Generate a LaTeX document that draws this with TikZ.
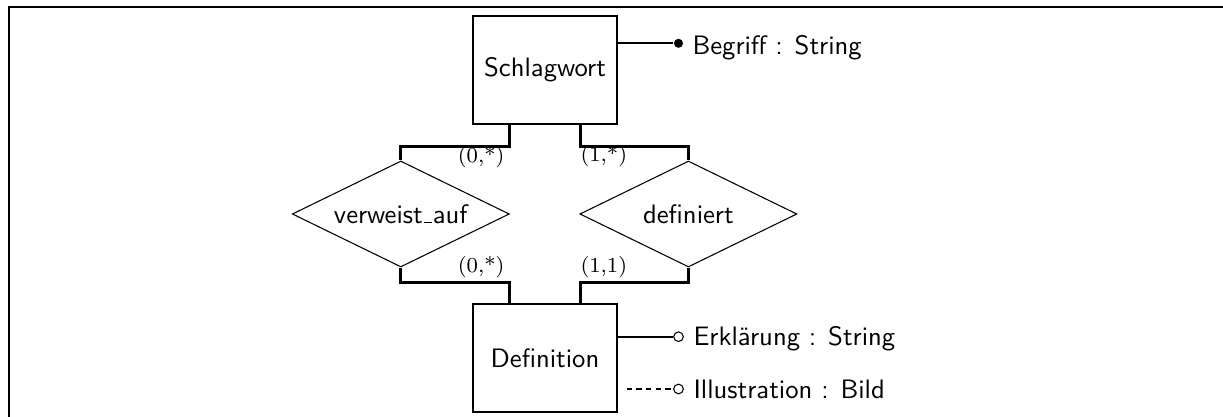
\documentclass[tikz,border=0pt]{standalone}
\usetikzlibrary{shapes.geometric}
\newcommand{\lowbar}{\leavevmode\kern.06em\vbox{\hrule width.3em height .45pt}\kern.02em}
\begin{document}
\begin{tikzpicture}[x=0.375pt,y=-0.375pt,
  entity/.style={draw,line width=0.75pt,minimum width=54pt,minimum height=40.5pt,inner sep=0pt,font=\sffamily},
  rel/.style={draw,diamond,aspect=2.05,line width=0.4pt,minimum width=81.4pt,minimum height=39.75pt,inner sep=0pt,font=\sffamily},
  conn/.style={line width=1.1pt},
  frameline/.style={line width=1.1pt},
  lab/.style={font=\rmfamily\footnotesize,inner sep=0pt},
  attr/.style={font=\sffamily,inner sep=0pt,anchor=base west},
  dotf/.style={circle,fill,inner sep=0pt,minimum size=3.4pt},
  doto/.style={circle,draw,fill=white,line width=0.4pt,inner sep=0pt,minimum size=3.6pt},
  aline/.style={line width=0.85pt},
  dline/.style={line width=0.4pt,dash pattern=on 2pt off 1.6pt}]
\useasboundingbox (0,0) rectangle (1223,417);
% frame
\draw[frameline] (9,417) -- (9,7) -- (1223,7);
% entities and relationships
\node[entity] (s) at (545,70) {Schlagwort};
\node[entity] (d) at (545,358) {Definition};
\node[rel] (v) at (400.8,214) {verweist\lowbar auf};
\node[rel] (f) at (688.4,214) {definiert};
% connectors
\draw[conn] ([xshift=-13.4pt]s.south) -- ++(0,21.7) -| (v.north);
\draw[conn] ([xshift=13.4pt]s.south) -- ++(0,21.7) -| (f.north);
\draw[conn] (v.south) -- ++(0,15) -| ([xshift=-13.4pt]d.north);
\draw[conn] (f.south) -- ++(0,15) -| ([xshift=13.4pt]d.north);
% cardinalities
\node[lab,anchor=east] at (505,157) {(0,*)};
\node[lab,anchor=west] at (580,156) {(1,*)};
\node[lab,anchor=east] at (505,267) {(0,*)};
\node[lab,anchor=west] at (580,267) {(1,1)};
% attributes
\node[dotf] (bd) at (678.5,43.3) {};
\node[attr] (bt) at (692,55) {Begriff : String};
\draw[aline] (s.east |- bd) -- (bd);
\node[doto] (ed) at (678.5,336.7) {};
\node[attr] (et) at (693,345) {Erklärung : String};
\draw[aline] (d.east |- ed) -- (ed);
\node[doto] (id) at (678.5,389) {};
\node[attr] (it) at (693,398) {Illustration : Bild};
\draw[dline,shorten <=3.3pt] (d.east |- id) -- (id);
\end{tikzpicture}
\end{document}
